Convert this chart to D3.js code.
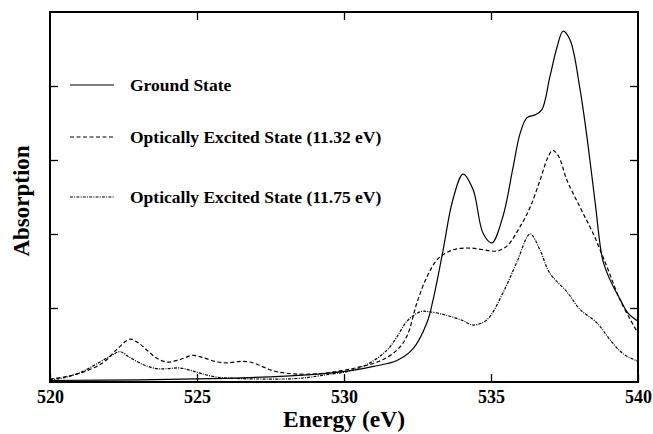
<!DOCTYPE html>
<html>
<head>
<meta charset="utf-8">
<script src="https://cdn.jsdelivr.net/npm/d3@7"></script>
<style>
  html, body { margin: 0; padding: 0; background: #fff; }
  svg { display: block; }
  text { font-family: "Liberation Serif", "Times New Roman", serif; font-weight: bold; fill: #000; }
</style>
</head>
<body>
<svg id="chart" width="653" height="434"></svg>
<script>
// ---- data ----
const xTicks = [520, 525, 530, 535, 540];
const yTicks = [1, 2, 3, 4];
const seriesNames = ["Ground State", "Optically Excited State (11.32 eV)", "Optically Excited State (11.75 eV)"];

const groundState = [
  [520, 0.02], [523, 0.03], [526, 0.05], [528, 0.08], [529.5, 0.12], [530.5, 0.17],
  [531.0, 0.21], [531.8, 0.29], [532.35, 0.45], [532.82, 0.8], [533.03, 1.11],
  [533.37, 1.78], [533.7, 2.46], [534.05, 2.81], [534.39, 2.6], [534.73, 2.01],
  [535.03, 1.88], [535.4, 2.23], [535.75, 2.9], [535.99, 3.36], [536.22, 3.57],
  [536.5, 3.61], [536.73, 3.68], [537.0, 4.12], [537.25, 4.53], [537.45, 4.74],
  [537.69, 4.62], [538.03, 3.95], [538.3, 3.2], [538.55, 2.4], [538.8, 1.65],
  [539.05, 1.38], [539.4, 1.11], [539.66, 0.93], [540, 0.82]
];

const excited1132 = [
  [520, 0.04], [520.5, 0.07], [521.1, 0.13], [521.8, 0.26], [522.3, 0.45],
  [522.72, 0.58], [523.0, 0.53], [523.3, 0.43], [523.64, 0.32], [523.98, 0.27],
  [524.4, 0.3], [524.86, 0.36], [525.2, 0.33], [525.7, 0.27], [526.1, 0.26],
  [526.5, 0.28], [526.9, 0.26], [527.6, 0.15], [528.3, 0.11], [529.1, 0.11],
  [529.86, 0.15], [530.5, 0.2], [531.2, 0.28], [531.8, 0.43], [532.14, 0.62],
  [532.48, 1.07], [532.82, 1.42], [533.16, 1.65], [533.5, 1.75], [533.84, 1.8],
  [534.3, 1.81], [534.86, 1.78], [535.2, 1.77], [535.55, 1.84], [535.99, 2.1],
  [536.33, 2.36], [536.67, 2.73], [536.94, 3.04], [537.1, 3.13], [537.3, 3.05],
  [537.58, 2.73], [538.03, 2.36], [538.47, 2.01], [538.95, 1.55], [539.4, 1.1],
  [540, 0.66]
];

const excited1175 = [
  [520, 0.03], [520.5, 0.06], [521.1, 0.14], [521.7, 0.27], [522.1, 0.36],
  [522.38, 0.41], [522.72, 0.33], [523.2, 0.23], [523.64, 0.18], [524.0, 0.18],
  [524.4, 0.19], [524.76, 0.16], [525.1, 0.12], [525.6, 0.07], [526.2, 0.05],
  [527.4, 0.04], [528.5, 0.05], [529.6, 0.11], [530.1, 0.14], [530.8, 0.24],
  [531.46, 0.43], [531.8, 0.61], [532.14, 0.82], [532.6, 0.95], [532.9, 0.95],
  [533.5, 0.9], [534.05, 0.83], [534.39, 0.77], [534.86, 0.84], [535.4, 1.2],
  [535.88, 1.62], [536.33, 2.0], [536.67, 1.78], [537.0, 1.47], [537.58, 1.22],
  [538.03, 0.98], [538.6, 0.8], [539.05, 0.57], [539.5, 0.38], [540, 0.28]
];

// ---- layout ----
const svg = d3.select("#chart");
const mLeft = 50, mRight = 638, mTop = 12, mBottom = 382;

const x = d3.scaleLinear().domain([520, 540]).range([mLeft, mRight]);
const y = d3.scaleLinear().domain([0, 5]).range([mBottom, mTop]);

const series = [
  { name: seriesNames[0], data: groundState, dash: null },
  { name: seriesNames[1], data: excited1132, dash: "4,2.5" },
  { name: seriesNames[2], data: excited1175, dash: "3,1.2,1,1.2" }
];

const line = d3.line()
  .x(d => x(d[0]))
  .y(d => y(d[1]))
  .curve(d3.curveCatmullRom.alpha(0.5));

const plot = svg.append("g");
plot.append("clipPath").attr("id", "clip")
  .append("rect").attr("x", mLeft).attr("y", mTop)
  .attr("width", mRight - mLeft).attr("height", mBottom - mTop);

plot.selectAll("path.series")
  .data(series)
  .join("path")
  .attr("class", "series")
  .attr("clip-path", "url(#clip)")
  .attr("d", d => line(d.data))
  .attr("fill", "none")
  .attr("stroke", "#000")
  .attr("stroke-width", 1.2)
  .attr("stroke-dasharray", d => d.dash);

// ---- axes ----
const tickLen = 8;
const xBottom = svg.append("g")
  .attr("transform", `translate(0,${mBottom})`)
  .call(d3.axisBottom(x).tickValues(xTicks).tickFormat(d3.format("d"))
    .tickSizeInner(-tickLen).tickSizeOuter(0).tickPadding(8));
xBottom.selectAll("text").style("font-size", "18px");

const xTop = svg.append("g")
  .attr("transform", `translate(0,${mTop})`)
  .call(d3.axisTop(x).tickValues(xTicks.slice(1, -1)).tickFormat("")
    .tickSizeInner(-tickLen).tickSizeOuter(0));

const yLeft = svg.append("g")
  .attr("transform", `translate(${mLeft},0)`)
  .call(d3.axisLeft(y).tickValues(yTicks).tickFormat("")
    .tickSizeInner(-tickLen).tickSizeOuter(0));

const yRight = svg.append("g")
  .attr("transform", `translate(${mRight},0)`)
  .call(d3.axisRight(y).tickValues(yTicks).tickFormat("")
    .tickSizeInner(-tickLen).tickSizeOuter(0));

[xBottom, xTop, yLeft, yRight].forEach(g => {
  g.select(".domain").remove();
  g.selectAll("line").attr("stroke", "#000").attr("stroke-width", 1.3);
});

svg.append("rect")
  .attr("x", mLeft).attr("y", mTop)
  .attr("width", mRight - mLeft).attr("height", mBottom - mTop)
  .attr("fill", "none").attr("stroke", "#000").attr("stroke-width", 2);

// ---- axis titles ----
svg.append("text")
  .attr("x", (mLeft + mRight) / 2).attr("y", 427)
  .attr("text-anchor", "middle")
  .style("font-size", "23.5px")
  .text("Energy (eV)");

svg.append("text")
  .attr("transform", `translate(29,${(mTop + mBottom) / 2 + 4}) rotate(-90)`)
  .attr("text-anchor", "middle")
  .style("font-size", "23px")
  .text("Absorption");

// ---- legend ----
const legendY = [85, 137, 197];
const legend = svg.append("g");
series.forEach((s, i) => {
  legend.append("line")
    .attr("x1", 70).attr("x2", 114)
    .attr("y1", legendY[i]).attr("y2", legendY[i])
    .attr("stroke", "#000").attr("stroke-width", 1.2)
    .attr("stroke-dasharray", s.dash);
  legend.append("text")
    .attr("x", 130).attr("y", legendY[i])
    .attr("dy", "0.35em")
    .style("font-size", "17.5px")
    .text(s.name);
});
</script>
</body>
</html>
